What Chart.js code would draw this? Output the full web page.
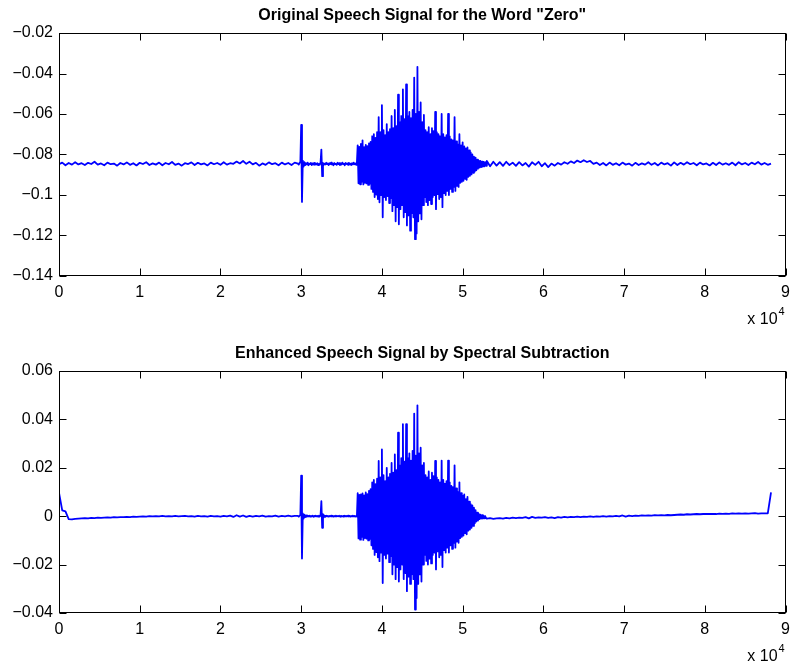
<!DOCTYPE html>
<html>
<head>
<meta charset="utf-8">
<script src="https://cdn.jsdelivr.net/npm/chart.js@4.4.1/dist/chart.umd.min.js"></script>
<style>
  body { margin: 0; background: #fff; }
  #wrap { position: relative; width: 797px; height: 666px; }
  canvas { position: absolute; left: 0; }
</style>
</head>
<body>
<div id="wrap">
  <canvas id="origChart" width="797" height="333" style="top:0"></canvas>
  <canvas id="enhChart" width="797" height="333" style="top:333px"></canvas>
</div>
<script>
// sample grid: quiet stretches every 400 samples, clicks + spoken part every 100
const COARSE_STEP = 400;
const FINE_STEP = 100;
const FINE_START = 29600;
const TAIL_START = 53000;

const xTicks = [0, 10000, 20000, 30000, 40000, 50000, 60000, 70000, 80000, 90000];
const origYTicks = [-0.14, -0.12, -0.1, -0.08, -0.06, -0.04, -0.02];
const enhYTicks = [-0.04, -0.02, 0, 0.02, 0.04, 0.06];

// original recording, samples 0..29200
const origLead = [
  -0.0848, -0.0840, -0.0853, -0.0842, -0.0850, -0.0838, -0.0849, -0.0843, -0.0852, -0.0841,
  -0.0847, -0.0836, -0.0850, -0.0844, -0.0853, -0.0840, -0.0848, -0.0845, -0.0855, -0.0842,
  -0.0849, -0.0839, -0.0851, -0.0843, -0.0854, -0.0841, -0.0847, -0.0838, -0.0852, -0.0844,
  -0.0850, -0.0840, -0.0853, -0.0842, -0.0848, -0.0837, -0.0851, -0.0845, -0.0855, -0.0843,
  -0.0847, -0.0839, -0.0852, -0.0841, -0.0849, -0.0844, -0.0854, -0.0840, -0.0848, -0.0842,
  -0.0851, -0.0838, -0.0850, -0.0843, -0.0846, -0.0835, -0.0844, -0.0832, -0.0846, -0.0836,
  -0.0849, -0.0841, -0.0855, -0.0844, -0.0851, -0.0839, -0.0848, -0.0843, -0.0853, -0.0840,
  -0.0849, -0.0842, -0.0852, -0.0840
];
// original recording, samples 29600..52900 (two clicks, then the word)
const origFine = [
  -0.0845, -0.0850, -0.0842, -0.0836, -0.0654, -0.1034, -0.0830, -0.0860, -0.0838, -0.0852,
  -0.0843, -0.0849, -0.0840, -0.0853, -0.0845, -0.0848, -0.0841, -0.0852, -0.0844, -0.0850,
  -0.0842, -0.0851, -0.0845, -0.0849, -0.0843, -0.0852, -0.0846, -0.0850, -0.0840, -0.0776,
  -0.0907, -0.0842, -0.0851, -0.0845, -0.0849, -0.0841, -0.0848, -0.0844, -0.0852, -0.0843,
  -0.0847, -0.0840, -0.0849, -0.0845, -0.0853, -0.0842, -0.0848, -0.0846, -0.0851, -0.0841,
  -0.0847, -0.0843, -0.0852, -0.0844, -0.0849, -0.0840, -0.0848, -0.0845, -0.0853, -0.0842,
  -0.0847, -0.0844, -0.0851, -0.0841, -0.0848, -0.0845, -0.0852, -0.0843, -0.0849, -0.0840,
  -0.0848, -0.0844, -0.0851, -0.0842,
  -0.0755, -0.0942, -0.0762, -0.0947, -0.0748, -0.0935, -0.0730, -0.0948, -0.0764, -0.0940,
  -0.0752, -0.0943, -0.0759, -0.0950, -0.0745, -0.0944, -0.0738, -0.0970, -0.0710, -0.0985,
  -0.0700, -0.1010, -0.0718, -0.0998, -0.0690, -0.1020, -0.0615, -0.1036, -0.0690, -0.1000,
  -0.0556, -0.1110, -0.0680, -0.1010, -0.0705, -0.1025, -0.0650, -0.1005, -0.0690, -0.1040,
  -0.0675, -0.1015, -0.0610, -0.1080, -0.0670, -0.1050, -0.0580, -0.1130, -0.0660, -0.1060,
  -0.0505, -0.1145, -0.0640, -0.1070, -0.0610, -0.1050, -0.0478, -0.1110, -0.0625, -0.1085,
  -0.0454, -0.1150, -0.0610, -0.1100, -0.0590, -0.1176, -0.0620, -0.1090, -0.0580, -0.1110,
  -0.0420, -0.1218, -0.0600, -0.1190, -0.0367, -0.1130, -0.0590, -0.1090, -0.0543, -0.1120,
  -0.0640, -0.1050, -0.0605, -0.1010, -0.0680, -0.1035, -0.0690, -0.1050, -0.0665, -0.1025,
  -0.0700, -0.1045, -0.0670, -0.1010, -0.0685, -0.1000, -0.0590, -0.1070, -0.0690, -0.0995,
  -0.0700, -0.1020, -0.0710, -0.1010, -0.0600, -0.1060, -0.0700, -0.0990, -0.0715, -0.1000,
  -0.0705, -0.0980, -0.0600, -0.1000, -0.0710, -0.0970, -0.0725, -0.0985, -0.0730, -0.0960,
  -0.0615, -0.0980, -0.0735, -0.0955, -0.0750, -0.0960, -0.0700, -0.0940, -0.0755, -0.0935,
  -0.0740, -0.0930, -0.0760, -0.0920, -0.0770, -0.0925, -0.0765, -0.0910, -0.0780, -0.0905,
  -0.0790, -0.0898, -0.0800, -0.0890, -0.0810, -0.0885, -0.0815, -0.0878, -0.0825, -0.0870,
  -0.0830, -0.0865, -0.0832, -0.0862, -0.0835, -0.0860, -0.0836, -0.0858, -0.0838, -0.0856
];
// original recording, samples 53000..88200
const origTail = [
  -0.0832, -0.0858, -0.0836, -0.0855, -0.0838, -0.0856, -0.0836, -0.0852, -0.0840, -0.0856,
  -0.0838, -0.0854, -0.0842, -0.0860, -0.0838, -0.0851, -0.0836, -0.0858, -0.0843, -0.0862,
  -0.0845, -0.0855, -0.0842, -0.0850, -0.0838, -0.0846, -0.0834, -0.0842, -0.0830, -0.0838,
  -0.0828, -0.0837, -0.0832, -0.0846, -0.0840, -0.0852, -0.0842, -0.0854, -0.0840, -0.0851,
  -0.0843, -0.0853, -0.0840, -0.0850, -0.0845, -0.0855, -0.0841, -0.0852, -0.0844, -0.0850,
  -0.0838, -0.0851, -0.0842, -0.0854, -0.0840, -0.0849, -0.0843, -0.0855, -0.0839, -0.0852,
  -0.0841, -0.0850, -0.0838, -0.0848, -0.0842, -0.0853, -0.0840, -0.0849, -0.0844, -0.0854,
  -0.0841, -0.0852, -0.0839, -0.0850, -0.0843, -0.0851, -0.0840, -0.0853, -0.0838, -0.0849,
  -0.0842, -0.0852, -0.0840, -0.0848, -0.0837, -0.0850, -0.0842, -0.0851, -0.0845
];

// after spectral subtraction, same sample grid
const enhLead = [
  0.0097, 0.0024, 0.0020, -0.0012, -0.0013, -0.0011, -0.0010, -0.0009, -0.0008, -0.0009,
  -0.0007, -0.0008, -0.0006, -0.0007, -0.0006, -0.0005, -0.0006, -0.0004, -0.0005, -0.0004,
  -0.0004, -0.0003, -0.0004, -0.0002, -0.0003, -0.0002, -0.0001, -0.0002, 0.0000, -0.0001,
  0.0000, -0.0001, 0.0001, -0.0001, 0.0000, -0.0001, 0.0001, -0.0001, 0.0000, 0.0001,
  -0.0001, 0.0000, -0.0002, 0.0001, -0.0001, 0.0000, -0.0002, 0.0001, -0.0001, 0.0000,
  -0.0002, 0.0001, -0.0001, 0.0002, -0.0003, 0.0004, -0.0002, 0.0003, -0.0003, 0.0001,
  -0.0002, 0.0001, -0.0001, 0.0002, -0.0002, 0.0000, -0.0001, 0.0002, -0.0002, 0.0001,
  -0.0001, 0.0002, -0.0001, 0.0001
];
const enhFine = [
  0.0001, -0.0002, 0.0002, 0.0006, 0.0168, -0.0175, 0.0012, -0.0010, 0.0006, -0.0004,
  0.0003, -0.0002, 0.0002, -0.0001, 0.0002, -0.0002, 0.0001, -0.0001, 0.0002, -0.0002,
  0.0001, -0.0001, 0.0002, -0.0001, 0.0001, -0.0002, 0.0002, -0.0001, 0.0004, 0.0062,
  -0.0048, 0.0008, -0.0005, 0.0003, -0.0002, 0.0002, -0.0001, 0.0001, -0.0002, 0.0001,
  -0.0001, 0.0002, -0.0001, 0.0001, -0.0002, 0.0001, -0.0001, 0.0002, -0.0001, 0.0000,
  0.0001, -0.0001, 0.0002, -0.0002, 0.0001, -0.0001, 0.0001, -0.0002, 0.0002, -0.0001,
  0.0001, -0.0001, 0.0002, -0.0001, 0.0001, -0.0002, 0.0001, -0.0001, 0.0002, -0.0001,
  0.0001, -0.0002, 0.0001, -0.0001,
  0.0095, -0.0092, 0.0088, -0.0097, 0.0090, -0.0085, 0.0094, -0.0098, 0.0086, -0.0090,
  0.0098, -0.0093, 0.0091, -0.0100, 0.0105, -0.0094, 0.0112, -0.0120, 0.0140, -0.0135,
  0.0150, -0.0160, 0.0132, -0.0148, 0.0155, -0.0170, 0.0228, -0.0186, 0.0160, -0.0150,
  0.0276, -0.0276, 0.0170, -0.0160, 0.0145, -0.0175, 0.0200, -0.0155, 0.0160, -0.0190,
  0.0175, -0.0165, 0.0220, -0.0240, 0.0180, -0.0200, 0.0255, -0.0260, 0.0190, -0.0210,
  0.0345, -0.0270, 0.0210, -0.0220, 0.0240, -0.0200, 0.0380, -0.0260, 0.0225, -0.0235,
  0.0380, -0.0310, 0.0240, -0.0250, 0.0260, -0.0280, 0.0230, -0.0240, 0.0270, -0.0260,
  0.0424, -0.0386, 0.0250, -0.0338, 0.0458, -0.0280, 0.0260, -0.0240, 0.0283, -0.0270,
  0.0210, -0.0200, 0.0220, -0.0160, 0.0170, -0.0185, 0.0160, -0.0200, 0.0185, -0.0175,
  0.0150, -0.0195, 0.0180, -0.0160, 0.0165, -0.0150, 0.0228, -0.0220, 0.0160, -0.0145,
  0.0150, -0.0170, 0.0140, -0.0160, 0.0230, -0.0210, 0.0150, -0.0140, 0.0135, -0.0150,
  0.0145, -0.0130, 0.0230, -0.0150, 0.0140, -0.0120, 0.0125, -0.0135, 0.0120, -0.0110,
  0.0210, -0.0130, 0.0115, -0.0105, 0.0100, -0.0110, 0.0140, -0.0090, 0.0095, -0.0085,
  0.0085, -0.0080, 0.0090, -0.0070, 0.0070, -0.0075, 0.0080, -0.0060, 0.0060, -0.0055,
  0.0050, -0.0048, 0.0045, -0.0040, 0.0035, -0.0030, 0.0025, -0.0022, 0.0015, -0.0018,
  0.0010, -0.0012, 0.0006, -0.0010, 0.0004, -0.0010, 0.0002, -0.0009, 0.0000, -0.0009
];
const enhTail = [
  -0.0010, -0.0008, -0.0011, -0.0009, -0.0008, -0.0010, -0.0007, -0.0009, -0.0006, -0.0008,
  -0.0006, -0.0007, -0.0004, -0.0009, -0.0003, -0.0007, -0.0005, -0.0006, -0.0004, -0.0007,
  -0.0005, -0.0008, -0.0004, -0.0006, -0.0003, -0.0005, -0.0003, -0.0004, -0.0002, -0.0004,
  -0.0002, -0.0003, -0.0001, -0.0003, -0.0001, -0.0002, 0.0000, -0.0002, 0.0000, -0.0001,
  0.0001, -0.0001, 0.0003, -0.0002, 0.0002, 0.0000, 0.0002, 0.0001, 0.0003, 0.0002,
  0.0003, 0.0002, 0.0004, 0.0003, 0.0004, 0.0003, 0.0005, 0.0004, 0.0005, 0.0006,
  0.0007, 0.0006, 0.0008, 0.0007, 0.0008, 0.0009, 0.0008, 0.0009, 0.0010, 0.0009,
  0.0010, 0.0009, 0.0011, 0.0010, 0.0011, 0.0010, 0.0012, 0.0011, 0.0012, 0.0011,
  0.0012, 0.0011, 0.0012, 0.0013, 0.0011, 0.0012, 0.0012, 0.0012, 0.0098
];

const FONT = '"Liberation Sans", Arial, Helvetica, sans-serif';

function buildPoints(lead, fine, tail) {
  const pts = [];
  lead.forEach((v, i) => pts.push({ x: i * COARSE_STEP, y: v }));
  fine.forEach((v, i) => pts.push({ x: FINE_START + i * FINE_STEP, y: v }));
  tail.forEach((v, i) => pts.push({ x: TAIL_START + i * COARSE_STEP, y: v }));
  return pts;
}

function fmtTick(v) {
  const r = Math.round(v * 100) / 100;
  if (r === 0) return "0";
  return (r < 0 ? "\u2212" : "") + String(Math.abs(r));
}

// box round the plot, inward tick marks on all four sides, and the x10^4 note
const matlabAxes = {
  id: "matlabAxes",
  afterDraw(chart) {
    const { ctx, chartArea: a, scales } = chart;
    const L = Math.round(a.left) + 0.5, R = Math.round(a.right) - 0.5;
    const T = Math.round(a.top) + 0.5, B = Math.round(a.bottom) - 0.5;
    const len = 7;
    ctx.save();
    ctx.strokeStyle = "#000";
    ctx.lineWidth = 1;
    ctx.beginPath();
    scales.x.ticks.forEach((t) => {
      const px = Math.round(scales.x.getPixelForValue(t.value)) + 0.5;
      ctx.moveTo(px, B); ctx.lineTo(px, B - len);
      ctx.moveTo(px, T); ctx.lineTo(px, T + len);
    });
    scales.y.ticks.forEach((t) => {
      const py = Math.round(scales.y.getPixelForValue(t.value)) + 0.5;
      ctx.moveTo(L, py); ctx.lineTo(L + len, py);
      ctx.moveTo(R, py); ctx.lineTo(R - len, py);
    });
    ctx.stroke();
    ctx.strokeRect(L, T, R - L, B - T);

    ctx.fillStyle = "#000";
    ctx.textBaseline = "alphabetic";
    ctx.textAlign = "right";
    ctx.font = "16px " + FONT;
    ctx.fillText("x 10", a.right - 8, a.bottom + 48);
    ctx.textAlign = "left";
    ctx.font = "11px " + FONT;
    ctx.fillText("4", a.right - 7, a.bottom + 39);
    ctx.restore();
  }
};

function makeChart(id, title, points, yTicks, titlePad, xAxisHeight) {
  const yMin = yTicks[0], yMax = yTicks[yTicks.length - 1];
  return new Chart(document.getElementById(id), {
    type: "line",
    data: {
      datasets: [{
        data: points,
        borderColor: "#0000ff",
        borderWidth: 1.8,
        borderJoinStyle: "round",
        pointRadius: 0,
        tension: 0,
        fill: false
      }]
    },
    options: {
      responsive: false,
      animation: false,
      devicePixelRatio: 1,
      parsing: false,
      layout: { padding: { left: 0, right: 4, top: 0, bottom: 0 } },
      plugins: {
        legend: { display: false },
        tooltip: { enabled: false },
        title: {
          display: true,
          text: title,
          fullSize: false,
          color: "#000",
          font: { family: FONT, size: 16, weight: "bold", lineHeight: 1 },
          padding: titlePad
        }
      },
      scales: {
        x: {
          type: "linear",
          min: 0,
          max: 90000,
          grid: { display: false, drawTicks: false },
          border: { display: false },
          afterBuildTicks: (s) => { s.ticks = xTicks.map((v) => ({ value: v })); },
          afterFit: (s) => { s.height = xAxisHeight; },
          ticks: {
            color: "#000",
            padding: 7,
            maxRotation: 0,
            font: { family: FONT, size: 16 },
            callback: (v) => String(v / 10000)
          }
        },
        y: {
          type: "linear",
          min: yMin,
          max: yMax,
          grid: { display: false, drawTicks: false },
          border: { display: false },
          afterBuildTicks: (s) => { s.ticks = yTicks.map((v) => ({ value: v })); },
          afterFit: (s) => { s.width = 59; },
          ticks: {
            color: "#000",
            padding: 6,
            font: { family: FONT, size: 16 },
            callback: (v) => fmtTick(v)
          }
        }
      }
    },
    plugins: [matlabAxes]
  });
}

makeChart("origChart", 'Original Speech Signal for the Word "Zero"',
  buildPoints(origLead, origFine, origTail), origYTicks, { top: 8, bottom: 9 }, 57);
makeChart("enhChart", "Enhanced Speech Signal by Spectral Subtraction",
  buildPoints(enhLead, enhFine, enhTail), enhYTicks, { top: 13, bottom: 9 }, 53);
</script>
</body>
</html>
